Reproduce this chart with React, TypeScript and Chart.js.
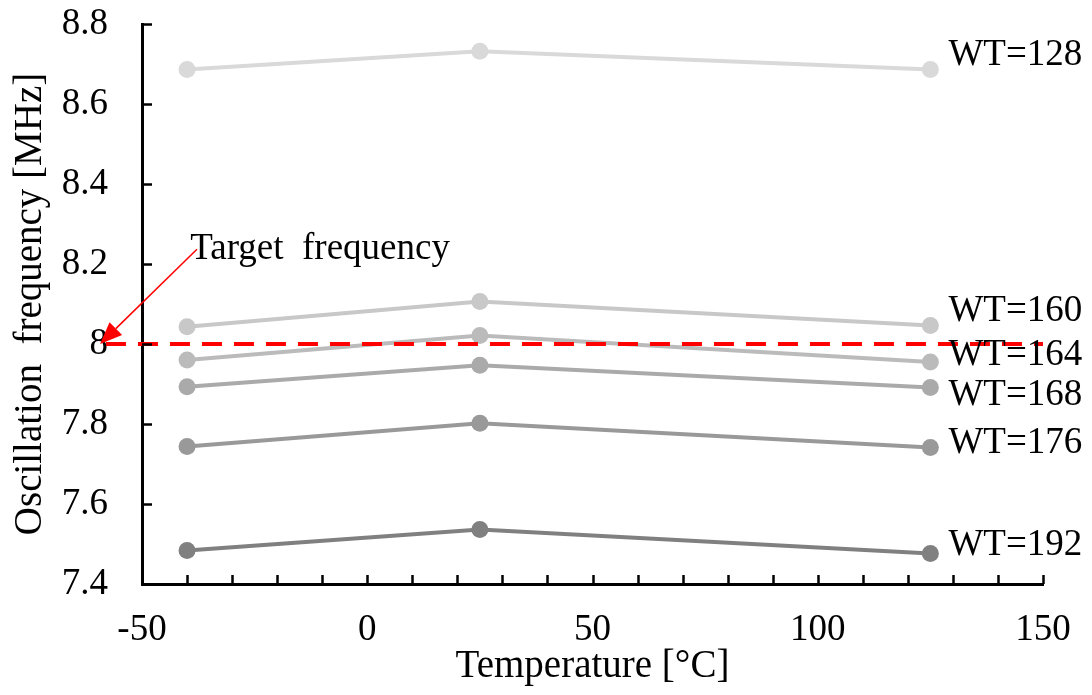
import React, { useEffect, useRef } from 'react';
import { Chart, registerables } from 'chart.js';

Chart.register(...registerables);

// ---------- data ----------
const temperatures = [-40, 25, 125];
const seriesNames = ['WT=128', 'WT=160', 'WT=164', 'WT=168', 'WT=176', 'WT=192'];
const wt128 = [8.686, 8.732, 8.686];
const wt160 = [8.043, 8.106, 8.046];
const wt164 = [7.96, 8.021, 7.955];
const wt168 = [7.893, 7.947, 7.891];
const wt176 = [7.744, 7.802, 7.741];
const wt192 = [7.484, 7.536, 7.476];
const seriesValues = [wt128, wt160, wt164, wt168, wt176, wt192];
const seriesColors = ['#d9d9d9', '#c8c8c8', '#bbbbbb', '#aaaaaa', '#999999', '#808080'];
// vertical centre of each series' right-hand label (MHz)
const labelYValues = [8.722, 8.082, 7.972, 7.872, 7.751, 7.497];

const targetFrequency = 8.0;
const targetLineX = [-58, 150];
const targetText = 'Target  frequency';
const targetTextAnchor = { x: -39.3, y: 8.212 };
const arrowStart = { x: -37.8, y: 8.237 };
const arrowEnd = { x: -59.3, y: 8.0 };

const xTickLabels = [-50, 0, 50, 100, 150];
const yTickLabels = [7.4, 7.6, 7.8, 8.0, 8.2, 8.4, 8.6, 8.8];
const xTitle = 'Temperature [°C]';
const yTitle = 'Oscillation  frequency [MHz]';

const FONT_FAMILY = '"Liberation Serif", "Times New Roman", serif';
const FONT_SIZE = 37;
const TITLE_SIZE = 39;

const decorPlugin = {
  id: 'decor',
  afterDatasetsDraw(chart: any) {
    const { ctx, chartArea } = chart;
    const xs = chart.scales.x;
    const ys = chart.scales.y;
    ctx.save();
    // inward tick marks
    ctx.strokeStyle = '#000';
    ctx.lineWidth = 2.5;
    ctx.beginPath();
    yTickLabels.forEach((v) => {
      const py = Math.round(ys.getPixelForValue(v)) + 0.5;
      ctx.moveTo(chartArea.left, py);
      ctx.lineTo(chartArea.left + 10, py);
    });
    xs.ticks.forEach((t: any) => {
      const px = Math.round(xs.getPixelForValue(t.value)) + 0.5;
      ctx.moveTo(px, chartArea.bottom);
      ctx.lineTo(px, chartArea.bottom - 9);
    });
    ctx.stroke();

    // series labels
    ctx.fillStyle = '#000';
    ctx.font = `${FONT_SIZE}px ${FONT_FAMILY}`;
    ctx.textAlign = 'left';
    ctx.textBaseline = 'middle';
    seriesNames.forEach((name, i) => {
      const lastX = temperatures[temperatures.length - 1];
      const px = xs.getPixelForValue(lastX) + 18;
      const py = ys.getPixelForValue(labelYValues[i]);
      ctx.fillText(name, px, py);
    });

    // target text
    ctx.textBaseline = 'alphabetic';
    ctx.fillText(targetText, xs.getPixelForValue(targetTextAnchor.x), ys.getPixelForValue(targetTextAnchor.y));

    // arrow
    const sx = xs.getPixelForValue(arrowStart.x);
    const sy = ys.getPixelForValue(arrowStart.y);
    const ex = xs.getPixelForValue(arrowEnd.x);
    const ey = ys.getPixelForValue(arrowEnd.y);
    const ang = Math.atan2(ey - sy, ex - sx);
    const headLen = 22;
    const headHalf = 9;
    const bx = ex - headLen * Math.cos(ang);
    const by = ey - headLen * Math.sin(ang);
    ctx.strokeStyle = '#ff0000';
    ctx.fillStyle = '#ff0000';
    ctx.lineWidth = 1.5;
    ctx.beginPath();
    ctx.moveTo(sx, sy);
    ctx.lineTo(bx, by);
    ctx.stroke();
    ctx.beginPath();
    ctx.moveTo(ex, ey);
    ctx.lineTo(bx + headHalf * Math.sin(ang), by - headHalf * Math.cos(ang));
    ctx.lineTo(bx - headHalf * Math.sin(ang), by + headHalf * Math.cos(ang));
    ctx.closePath();
    ctx.fill();
    ctx.restore();
  },
};

export default function App() {
  const canvasRef = useRef<HTMLCanvasElement | null>(null);

  useEffect(() => {
    if (!canvasRef.current) return;
    const datasets: any[] = [
      {
        label: 'Target',
        data: targetLineX.map((x) => ({ x, y: targetFrequency })),
        showLine: true,
        borderColor: '#ff0000',
        borderWidth: 4,
        borderDash: [20, 12],
        pointRadius: 0,
        clip: false,
        order: 0,
      },
      ...seriesNames.map((name, i) => ({
        label: name,
        data: temperatures.map((t, j) => ({ x: t, y: seriesValues[i][j] })),
        showLine: true,
        borderColor: seriesColors[i],
        backgroundColor: seriesColors[i],
        pointBackgroundColor: seriesColors[i],
        pointBorderWidth: 0,
        pointRadius: 8.5,
        borderWidth: 4,
        order: 1,
      })),
    ];

    const chart = new Chart(canvasRef.current, {
      type: 'scatter',
      data: { datasets },
      plugins: [decorPlugin],
      options: {
        animation: false,
        responsive: true,
        maintainAspectRatio: false,
        layout: { padding: { top: 24, right: 49, left: 0, bottom: 0 } },
        plugins: { legend: { display: false }, tooltip: { enabled: false } },
        scales: {
          x: {
            type: 'linear',
            min: -50,
            max: 150,
            afterFit: (s: any) => {
              s.height = 111;
              s.paddingLeft = 0;
              s.paddingRight = 0;
            },
            grid: { display: false, drawTicks: false },
            border: { display: true, color: '#000', width: 3 },
            ticks: {
              stepSize: 10,
              autoSkip: false,
              maxRotation: 0,
              padding: 24,
              color: '#000',
              font: { family: FONT_FAMILY, size: FONT_SIZE },
              callback: (v: any) => (xTickLabels.includes(Number(v)) ? String(v) : ''),
            },
            title: {
              display: true,
              text: xTitle,
              color: '#000',
              font: { family: FONT_FAMILY, size: TITLE_SIZE },
              padding: { top: 0, bottom: 5 },
            },
          },
          y: {
            type: 'linear',
            min: 7.4,
            max: 8.8,
            afterFit: (s: any) => {
              s.width = 142;
              s.paddingTop = 0;
              s.paddingBottom = 0;
            },
            grid: { display: false, drawTicks: false },
            border: { display: true, color: '#000', width: 3 },
            ticks: {
              stepSize: 0.2,
              padding: 34,
              color: '#000',
              font: { family: FONT_FAMILY, size: FONT_SIZE },
              callback: (v: any) => {
                const n = Number(Number(v).toFixed(1));
                return yTickLabels.some((t) => Math.abs(t - n) < 1e-6) ? String(n) : '';
              },
            },
            title: {
              display: true,
              text: yTitle,
              color: '#000',
              font: { family: FONT_FAMILY, size: TITLE_SIZE },
              padding: { top: 7, bottom: 0 },
            },
          },
        },
      },
    });
    return () => chart.destroy();
  }, []);

  return (
    <div style={{ position: 'absolute', left: 0, top: 0, width: 1092, height: 695, background: '#fff' }}>
      <canvas ref={canvasRef} style={{ display: 'block' }} />
    </div>
  );
}
